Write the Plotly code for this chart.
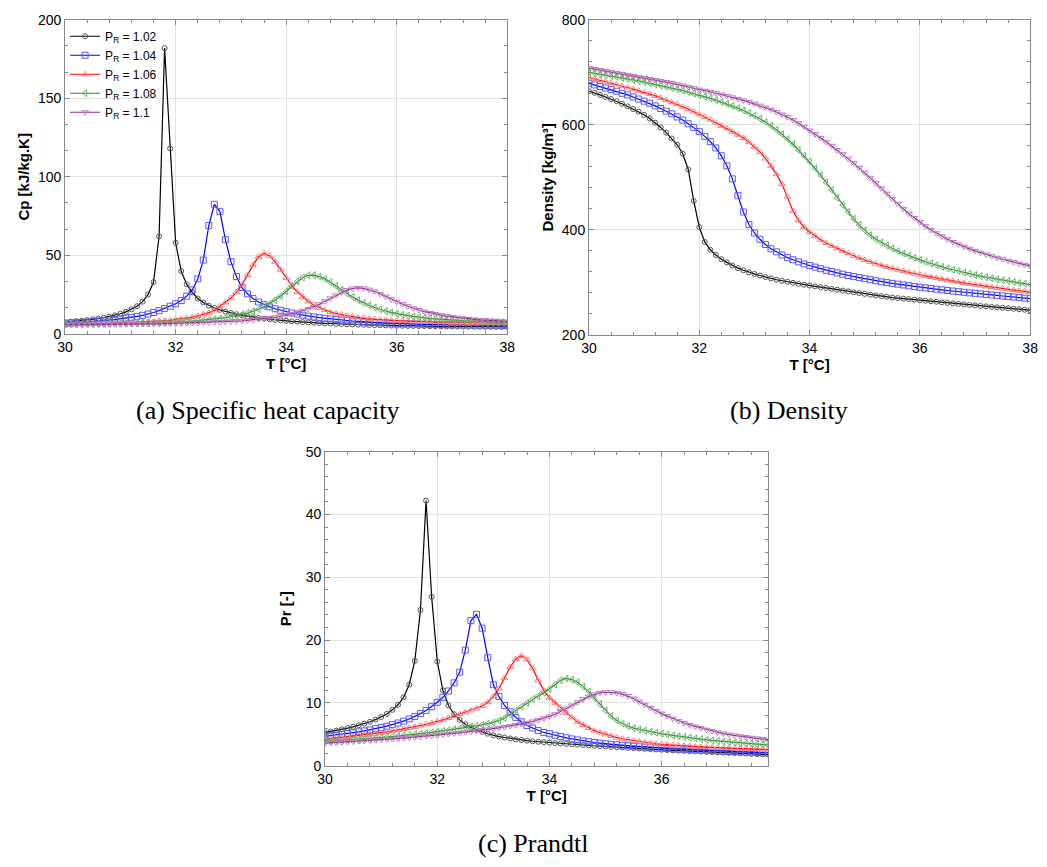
import plotly.graph_objects as go

# ---------------- data ----------------
T = [30.0, 30.1, 30.2, 30.3, 30.4, 30.5, 30.6, 30.7, 30.8, 30.9,
     31.0, 31.1, 31.2, 31.3, 31.4, 31.5, 31.6, 31.7, 31.8, 31.9,
     32.0, 32.1, 32.2, 32.3, 32.4, 32.5, 32.6, 32.7, 32.8, 32.9,
     33.0, 33.1, 33.2, 33.3, 33.4, 33.5, 33.6, 33.7, 33.8, 33.9,
     34.0, 34.1, 34.2, 34.3, 34.4, 34.5, 34.6, 34.7, 34.8, 34.9,
     35.0, 35.1, 35.2, 35.3, 35.4, 35.5, 35.6, 35.7, 35.8, 35.9,
     36.0, 36.1, 36.2, 36.3, 36.4, 36.5, 36.6, 36.7, 36.8, 36.9,
     37.0, 37.1, 37.2, 37.3, 37.4, 37.5, 37.6, 37.7, 37.8, 37.9,
     38.0]

series_names = ["P<sub>R</sub> = 1.02", "P<sub>R</sub> = 1.04", "P<sub>R</sub> = 1.06",
                "P<sub>R</sub> = 1.08", "P<sub>R</sub> = 1.1"]

cp_102 = [7.5, 7.8, 8.1, 8.4, 8.8, 9.2, 9.7, 10.3, 11.0, 11.8,
          12.8, 14.0, 15.6, 17.6, 20.5, 25.0, 33.0, 62.0, 182.0, 118.0,
          58.0, 40.0, 31.5, 26.5, 22.5, 20.0, 18.0, 16.5, 15.3, 14.2,
          13.3, 12.5, 11.8, 11.2, 10.6, 10.1, 9.7, 9.3, 8.9, 8.6,
          8.3, 8.0, 7.8, 7.5, 7.3, 7.1, 6.9, 6.7, 6.6, 6.4,
          6.3, 6.1, 6.0, 5.9, 5.8, 5.7, 5.6, 5.5, 5.4, 5.3,
          5.2, 5.15, 5.1, 5.05, 5.0, 4.95, 4.9, 4.85, 4.8, 4.76,
          4.72, 4.68, 4.64, 4.6, 4.57, 4.54, 4.51, 4.48, 4.45, 4.42,
          4.4]
cp_104 = [6.7, 6.9, 7.1, 7.3, 7.5, 7.8, 8.1, 8.4, 8.7, 9.1,
          9.5, 10.0, 10.5, 11.1, 11.8, 12.6, 13.6, 14.8, 16.2, 17.6,
          19.2, 21.2, 24.0, 28.0, 35.0, 47.0, 69.0, 82.5, 78.0, 60.0,
          46.0, 36.5, 29.5, 25.5, 22.5, 20.3, 18.6, 17.2, 16.0, 15.0,
          14.1, 13.3, 12.6, 11.9, 11.3, 10.8, 10.3, 9.9, 9.5, 9.1,
          8.8, 8.5, 8.2, 8.0, 7.7, 7.5, 7.3, 7.1, 6.9, 6.8,
          6.6, 6.5, 6.4, 6.3, 6.2, 6.1, 6.05, 6.0, 5.95, 5.9,
          5.85, 5.8, 5.75, 5.7, 5.65, 5.6, 5.55, 5.5, 5.45, 5.4,
          5.35]
cp_106 = [6.3, 6.3, 6.4, 6.4, 6.5, 6.5, 6.6, 6.7, 6.7, 6.8,
          7.0, 7.1, 7.2, 7.4, 7.5, 7.7, 7.9, 8.1, 8.4, 8.6,
          9.2, 9.6, 10.1, 10.7, 11.5, 12.4, 13.5, 14.9, 17.5, 20.0,
          22.8, 26.6, 31.3, 37.4, 43.8, 49.1, 51.2, 49.8, 45.9, 40.9,
          35.6, 30.8, 26.7, 23.4, 20.6, 18.4, 16.6, 15.2, 14.0, 13.0,
          12.2, 11.5, 10.9, 10.4, 10.0, 9.6, 9.3, 9.0, 8.8, 8.6,
          8.4, 8.2, 8.1, 7.9, 7.8, 7.7, 7.6, 7.5, 7.4, 7.3,
          7.2, 7.15, 7.1, 7.05, 7.0, 6.95, 6.9, 6.85, 6.8, 6.75,
          6.7]
cp_108 = [6.2, 6.2, 6.2, 6.3, 6.3, 6.3, 6.4, 6.4, 6.5, 6.5,
          6.6, 6.7, 6.7, 6.8, 6.9, 7.0, 7.1, 7.2, 7.3, 7.5,
          7.6, 7.8, 8.0, 8.2, 8.4, 8.7, 9.0, 9.4, 9.8, 10.3,
          10.9, 11.5, 12.3, 13.3, 14.4, 15.7, 17.3, 19.2, 21.5, 24.1,
          27.1, 30.3, 33.4, 35.9, 37.3, 37.4, 36.5, 35.0, 32.9, 30.5,
          28.1, 25.7, 23.5, 21.5, 19.7, 18.2, 16.8, 15.6, 14.6, 13.7,
          12.9, 12.2, 11.6, 11.1, 10.6, 10.2, 9.9, 9.6, 9.3, 9.0,
          8.8, 8.6, 8.4, 8.2, 8.1, 7.9, 7.8, 7.7, 7.6, 7.5,
          7.4]
cp_110 = [5.8, 5.9, 5.9, 5.9, 5.9, 6.0, 6.0, 6.0, 6.0, 6.1,
          6.1, 6.1, 6.2, 6.2, 6.3, 6.3, 6.4, 6.4, 6.5, 6.6,
          6.6, 6.7, 6.8, 6.9, 7.0, 7.1, 7.2, 7.4, 7.5, 7.7,
          7.9, 8.1, 8.3, 8.6, 8.9, 9.3, 9.7, 10.1, 10.6, 11.2,
          11.9, 12.7, 13.6, 14.7, 15.9, 17.3, 18.9, 20.7, 22.6, 24.5,
          26.4, 27.9, 28.9, 29.3, 29.0, 28.2, 27.0, 25.5, 23.8, 22.1,
          20.5, 19.0, 17.6, 16.3, 15.2, 14.2, 13.3, 12.6, 11.9, 11.3,
          10.8, 10.3, 9.9, 9.5, 9.2, 8.9, 8.7, 8.4, 8.2, 8.0,
          7.9]

rho_102 = [664, 661, 657, 653, 649, 645, 640, 635, 630, 625,
           619, 612, 604, 595, 585, 574, 562, 545, 515, 455,
           405, 377, 362, 352, 344, 338, 332, 327, 323, 319,
           316, 313, 310, 307.5, 305, 303, 301, 299, 297, 295.5,
           294, 292.4, 290.8, 289.2, 287.6, 286, 284.4, 282.8, 281.2, 279.6,
           278, 276.6, 275.2, 273.8, 272.4, 271, 270, 269, 268, 267,
           266, 265, 264, 263, 262, 261, 260, 259, 258, 257,
           256, 255.1, 254.2, 253.3, 252.4, 251.5, 250.6, 249.7, 248.8, 247.9,
           247]
rho_104 = [679, 676, 673, 670, 667, 664, 660, 657, 653, 649,
           645, 641, 636, 631, 626, 621, 615, 609, 602, 595,
           587, 578, 568, 556, 541, 522, 497, 465, 434, 410,
           394, 382, 372, 364, 358, 352, 347, 343, 339, 335,
           332, 329, 326, 323, 320.5, 318, 315.5, 313, 311, 309,
           307, 305, 303, 301, 299.5, 298, 296.5, 295, 293.5, 292,
           290.7, 289.4, 288.1, 286.9, 285.7, 284.5, 283.3, 282.2, 281.1, 280,
           279, 278, 277, 276, 275, 274, 273, 272, 271, 270,
           269]
rho_106 = [690, 687.5, 685, 682, 679.5, 677, 674, 671, 668, 665,
           662, 658.5, 655, 651, 647, 643, 639, 634.5, 630, 625,
           620, 615, 610, 604, 598, 593, 587, 581, 575, 567,
           558, 548, 536, 522, 506, 487, 463, 436, 418, 405,
           396, 388, 381, 375, 369.5, 364.5, 360, 355.5, 350.5, 346.5,
           342.5, 339, 335.5, 332.5, 329.5, 326.7, 324, 321.5, 319, 316.7,
           314.5, 312.3, 310.2, 308.2, 306.2, 304.3, 302.4, 300.6, 298.9, 297.2,
           295.6, 294, 292.5, 291, 289.5, 288.1, 286.7, 285.3, 284, 282.7,
           281.4]
rho_108 = [700, 698.3, 696.6, 694.9, 693.1, 691.3, 689.4, 687.5, 685.5, 683.5,
           681.4, 679.3, 677.1, 674.8, 672.5, 670.1, 667.6, 665, 662.3, 659.5,
           656.6, 653.6, 650.4, 647.1, 643.6, 639.9, 636, 631.8, 627.3, 622.5,
           617.3, 611.6, 605.3, 598.5, 590.5, 582, 573, 563, 552, 541,
           530, 517, 504, 490, 476, 461, 447, 434, 421, 409,
           399, 390, 382.5, 376, 370, 364.5, 359.5, 355, 350.7, 346.6,
           342.8, 339.2, 335.8, 332.6, 329.6, 326.7, 324, 321.4, 318.9, 316.5,
           314.2, 312, 309.9, 307.9, 306, 304.2, 302.4, 300.7, 299, 297.4,
           295.8]
rho_110 = [708, 706.2, 704.4, 702.6, 700.7, 698.8, 696.9, 694.9, 692.9, 690.8,
           689, 687.2, 685.3, 683.4, 681.4, 679.3, 677.1, 674.8, 672.4, 669.8,
           667, 664.8, 662.5, 660.1, 657.6, 655, 652.3, 649.4, 646.4, 643.3,
           640, 636.5, 632.8, 628.8, 624.5, 619.8, 614.7, 609.1, 603, 596.4,
           589, 582.2, 575, 567.6, 560, 552.1, 544, 535.6, 527, 518,
           509, 499, 489, 479, 469, 459, 449.5, 440, 431, 422.5,
           414.5, 407, 400, 393.5, 387.5, 382, 377, 372.3, 367.9, 363.8,
           360, 356.4, 353, 349.8, 346.8, 343.9, 341.1, 338.4, 335.8, 333.3,
           330.9]

pr_102 = [5.3, 5.45, 5.6, 5.8, 6.0, 6.2, 6.45, 6.7, 7.0, 7.35,
          7.75, 8.25, 8.9, 9.7, 10.9, 12.9, 16.7, 24.8, 42.2, 26.9,
          16.6, 12.0, 9.6, 8.2, 7.3, 6.6, 6.1, 5.7, 5.4, 5.1,
          4.85, 4.65, 4.5, 4.35, 4.2, 4.1, 4.0, 3.9, 3.82, 3.75,
          3.68, 3.61, 3.54, 3.48, 3.42, 3.36, 3.3, 3.24, 3.18, 3.12,
          3.06, 3.0, 2.95, 2.9, 2.85, 2.8, 2.75, 2.7, 2.65, 2.6,
          2.55, 2.5, 2.46, 2.42, 2.38, 2.34, 2.3, 2.26, 2.22, 2.18,
          2.14, 2.1, 2.06, 2.02, 1.98, 1.94, 1.9, 1.86, 1.82, 1.78,
          1.74]
pr_104 = [4.7, 4.8, 4.9, 5.0, 5.1, 5.25, 5.4, 5.55, 5.7, 5.9,
          6.1, 6.3, 6.55, 6.8, 7.1, 7.45, 7.85, 8.3, 8.8, 9.4,
          10.1, 10.9, 11.9, 13.2, 14.9, 18.4, 23.1, 24.1, 21.9, 17.2,
          12.9, 11.0, 9.6, 8.6, 7.7, 7.0, 6.4, 6.0, 5.6, 5.3,
          5.1, 4.85, 4.65, 4.45, 4.27, 4.1, 3.95, 3.82, 3.7, 3.6,
          3.5, 3.42, 3.34, 3.26, 3.18, 3.1, 3.03, 2.96, 2.9, 2.85,
          2.8, 2.75, 2.7, 2.66, 2.62, 2.58, 2.54, 2.5, 2.46, 2.42,
          2.38, 2.34, 2.3, 2.26, 2.22, 2.18, 2.14, 2.1, 2.06, 2.02,
          1.98]
pr_106 = [4.2, 4.3, 4.4, 4.5, 4.6, 4.7, 4.8, 4.9, 5.0, 5.1,
          5.25, 5.4, 5.55, 5.7, 5.85, 6.0, 6.2, 6.4, 6.6, 6.8,
          7.05, 7.3, 7.6, 7.9, 8.2, 8.5, 8.8, 9.1, 9.5, 10.1,
          11.0, 12.3, 14.0, 15.7, 17.0, 17.5, 16.9, 15.5, 13.6, 12.0,
          10.8, 10.0, 9.2, 8.4, 7.7, 7.0, 6.5, 6.0, 5.6, 5.3,
          5.0, 4.75, 4.5, 4.3, 4.15, 4.0, 3.85, 3.72, 3.6, 3.5,
          3.42, 3.35, 3.28, 3.22, 3.16, 3.1, 3.05, 3.0, 2.96, 2.92,
          2.88, 2.84, 2.8, 2.77, 2.74, 2.71, 2.68, 2.65, 2.62, 2.59,
          2.56]
pr_108 = [3.9, 3.95, 4.0, 4.05, 4.1, 4.15, 4.2, 4.27, 4.34, 4.41,
          4.48, 4.56, 4.64, 4.72, 4.81, 4.9, 5.0, 5.1, 5.2, 5.3,
          5.42, 5.54, 5.66, 5.79, 5.92, 6.06, 6.2, 6.36, 6.52, 6.7,
          6.9, 7.2, 7.6, 8.2, 8.8, 9.4, 10.0, 10.6, 11.1, 11.6,
          12.2, 12.9, 13.6, 13.9, 13.7, 13.3, 12.6, 11.8, 10.8, 9.8,
          8.8, 7.9, 7.2, 6.7, 6.3, 6.0, 5.8, 5.6, 5.4, 5.25,
          5.1, 4.95, 4.82, 4.7, 4.58, 4.46, 4.35, 4.24, 4.13, 4.03,
          3.94, 3.86, 3.78, 3.71, 3.64, 3.57, 3.5, 3.43, 3.36, 3.3,
          3.24]
pr_110 = [3.6, 3.65, 3.7, 3.75, 3.8, 3.85, 3.9, 3.96, 4.02, 4.08,
          4.14, 4.2, 4.27, 4.34, 4.41, 4.48, 4.55, 4.63, 4.71, 4.79,
          4.87, 4.96, 5.05, 5.14, 5.24, 5.34, 5.44, 5.55, 5.66, 5.78,
          5.9, 6.03, 6.17, 6.32, 6.48, 6.65, 6.84, 7.05, 7.28, 7.55,
          7.85, 8.2, 8.6, 9.1, 9.6, 10.1, 10.6, 11.0, 11.35, 11.6,
          11.7, 11.7, 11.6, 11.4, 11.1, 10.7, 10.2, 9.7, 9.2, 8.7,
          8.3, 7.9, 7.5, 7.1, 6.8, 6.5, 6.25, 6.0, 5.75, 5.5,
          5.3, 5.12, 4.96, 4.82, 4.7, 4.58, 4.46, 4.35, 4.24, 4.14,
          4.05]

cp_series = [cp_102, cp_104, cp_106, cp_108, cp_110]
rho_series = [rho_102, rho_104, rho_106, rho_108, rho_110]
pr_series = [pr_102, pr_104, pr_106, pr_108, pr_110]

# ---------------- styles ----------------
line_colors = ["#000000", "#0000ff", "#ff0000", "#2e8b2e", "#8e2a8e"]
marker_colors = ["#555555", "#5a5aff", "#ff7a7a", "#66b366", "#bb7bbb"]
symbols = ["circle-open", "square-open", "triangle-up-open", "triangle-left-open", "triangle-down-open"]
msizes = [5, 6, 6, 6, 6]

fig = go.Figure()

panels = [("x", "y", cp_series, True), ("x2", "y2", rho_series, False), ("x3", "y3", pr_series, False)]
for xa, ya, data, show in panels:
    for i in range(5):
        fig.add_trace(go.Scatter(
            x=T, y=data[i], xaxis=xa, yaxis=ya, mode="lines+markers",
            name=series_names[i], showlegend=show,
            line=dict(color=line_colors[i], width=1.2),
            marker=dict(symbol=symbols[i], size=msizes[i], color=marker_colors[i],
                        line=dict(width=1, color=marker_colors[i])),
        ))

W, H = 1047, 867
def dx(a, b):
    return [a / W, b / W]
def dy(top, bottom):
    return [1 - bottom / H, 1 - top / H]

tickfont = dict(family="Liberation Sans, Arial, sans-serif", size=14, color="#000000")
titlefont = dict(family="Liberation Sans, Arial, sans-serif", size=15, color="#000000", weight="bold")
axcommon = dict(showline=True, linecolor="#888888", linewidth=1, mirror="allticks",
                ticks="inside", ticklen=5, tickcolor="#888888", showgrid=True,
                gridcolor="#e2e2e2", gridwidth=1, zeroline=False, tickfont=tickfont)

def xaxis(domain, rng, anchor, minor_dtick=0.4):
    d = dict(axcommon)
    d.update(domain=domain, range=rng, anchor=anchor, dtick=2, tick0=30,
             minor=dict(ticks="inside", ticklen=3, dtick=minor_dtick, tickcolor="#888888", showgrid=False),
             title=dict(text="T [°C]", font=titlefont, standoff=2))
    return d

def yaxis(domain, rng, anchor, dtick, minor_dtick, title, standoff):
    d = dict(axcommon)
    d.update(domain=domain, range=rng, anchor=anchor, dtick=dtick,
             minor=dict(ticks="inside", ticklen=3, dtick=minor_dtick, tickcolor="#888888", showgrid=False),
             title=dict(text=title, font=titlefont, standoff=standoff))
    return d

fig.update_layout(
    width=W, height=H, margin=dict(l=0, r=0, t=0, b=0),
    paper_bgcolor="white", plot_bgcolor="white",
    xaxis=xaxis(dx(58, 507), [30, 38], "y"),
    yaxis=yaxis(dy(12, 332), [0, 200], "x", 50, 50 / 3, "Cp [kJ/kg.K]", 4),
    xaxis2=xaxis(dx(590, 1038), [30, 38], "y2"),
    yaxis2=yaxis(dy(12, 333), [200, 800], "x2", 200, 40, "Density [kg/m³]", 4),
    xaxis3=xaxis(dx(322, 772), [30, 37.9], "y3"),
    yaxis3=yaxis(dy(452, 772), [0, 50], "x3", 10, 2, "Pr [-]", 10),
    legend=dict(x=58 / W, y=1 - 14 / H, xanchor="left", yanchor="top",
                bgcolor="rgba(0,0,0,0)", font=dict(family="Liberation Sans, Arial, sans-serif", size=12, color="#000"),
                itemwidth=30, tracegroupgap=0),
    showlegend=True,
)

capfont = dict(family="Liberation Serif, DejaVu Serif, serif", size=26, color="#000000")
for txt, cx, cy in [("(a) Specific heat capacity", 264, 410), ("(b) Density", 793, 410), ("(c) Prandtl", 533, 851)]:
    fig.add_annotation(text=txt, x=cx / W, y=1 - cy / H, xref="paper", yref="paper",
                       showarrow=False, font=capfont, xanchor="center", yanchor="middle")

fig.write_html("out.html")
